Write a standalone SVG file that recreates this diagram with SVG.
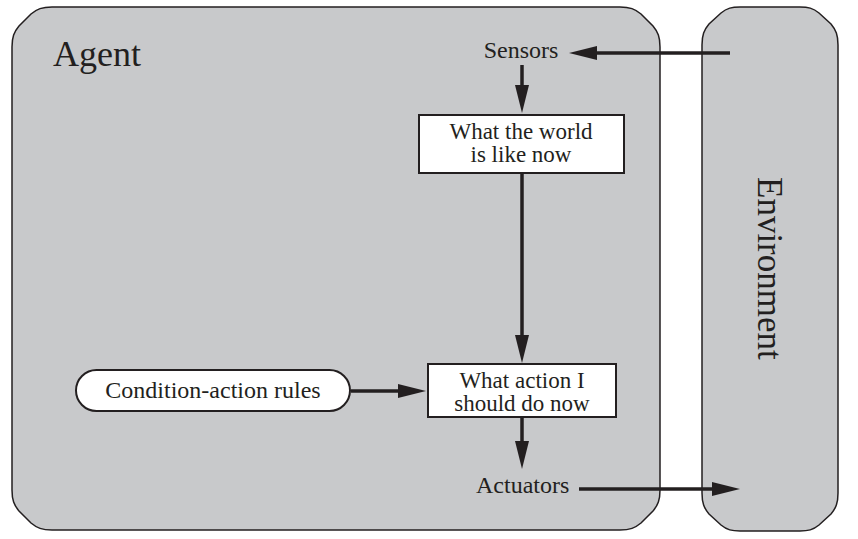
<svg xmlns="http://www.w3.org/2000/svg" width="858" height="539" viewBox="0 0 858 539">
  <style>
    .panel { fill: #c8c9cb; stroke: #231f20; stroke-width: 1.5; }
    .box { fill: #ffffff; stroke: #231f20; stroke-width: 2; }
    .t { font-family: "Liberation Serif", "Times New Roman", serif; fill: #231f20; }
    .lbl { font-size: 24px; }
    .in { font-size: 23px; }
    .edge { stroke: #231f20; stroke-width: 3.5; fill: none; marker-end: url(#head); }
  </style>
  <defs>
    <marker id="head" viewBox="0 0 28 14" refX="8" refY="7" markerWidth="28" markerHeight="14" markerUnits="userSpaceOnUse" orient="auto">
      <path d="M0,0 L28,7 L0,14 Z" fill="#231f20"/>
    </marker>
  </defs>

  <g id="agent">
    <path class="panel" d="M12,47 C12,37 14,32 19,26 L31,14 C37,9 42,7 52,7 L620,7 C630,7 635,9 641,14 L653,26 C658,32 660,37 660,47 L660,490 C660,500 658,505 653,511 L641,523 C635,528 630,530 620,530 L52,530 C42,530 37,528 31,523 L19,511 C14,505 12,500 12,490 Z"/>
    <text class="t" x="53" y="66" font-size="36">Agent</text>
  </g>

  <g id="environment">
    <path class="panel" d="M702,45 C702,35 704,30 709,24 L721,13 C727,8 732,7 740,7 L800,7 C808,7 813,8 819,13 L831,24 C836,30 838,35 838,45 L838,493 C838,503 836,508 831,514 L819,525 C813,530 808,531 800,531 L740,531 C732,531 727,530 721,525 L709,514 C704,508 702,503 702,493 Z"/>
    <text class="t" font-size="35" transform="translate(758,177) rotate(90)">Environment</text>
  </g>

  <g id="sensors">
    <text class="t lbl" x="521" y="58" text-anchor="middle">Sensors</text>
  </g>

  <g id="world-state">
    <rect class="box" x="419" y="115" width="205" height="58"/>
    <text class="t in" x="521" y="138.5" text-anchor="middle">What the world</text>
    <text class="t in" x="521" y="162" text-anchor="middle">is like now</text>
  </g>

  <g id="rules">
    <rect class="box" x="76" y="370" width="274" height="41" rx="20.5" ry="20.5" stroke-width="1.5"/>
    <text class="t lbl" x="213" y="398" text-anchor="middle">Condition-action rules</text>
  </g>

  <g id="action">
    <rect class="box" x="428" y="364" width="188" height="53"/>
    <text class="t in" x="522" y="387.5" text-anchor="middle">What action I</text>
    <text class="t in" x="522" y="411" text-anchor="middle">should do now</text>
  </g>

  <g id="actuators">
    <text class="t lbl" x="476" y="493">Actuators</text>
  </g>

  <g id="connectors">
    <line class="edge" x1="730" y1="53" x2="589" y2="53"/>
    <line class="edge" x1="522" y1="65" x2="522" y2="93"/>
    <line class="edge" x1="522" y1="173" x2="522" y2="343"/>
    <line class="edge" x1="351" y1="391" x2="406" y2="391"/>
    <line class="edge" x1="522" y1="417" x2="522" y2="449"/>
    <line class="edge" x1="579" y1="489" x2="720" y2="489"/>
  </g>
</svg>
